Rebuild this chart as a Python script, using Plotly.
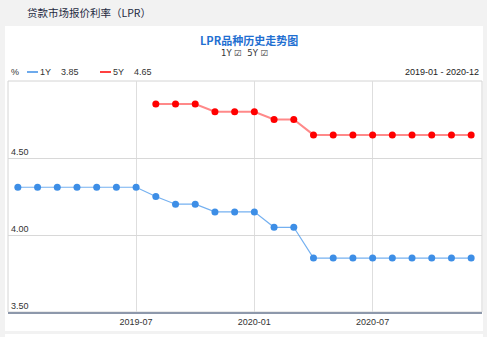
import plotly.graph_objects as go

months = [f"{y}-{m:02d}" for y in (2019, 2020) for m in range(1, 13)]
rate_1y = [4.31, 4.31, 4.31, 4.31, 4.31, 4.31, 4.31, 4.25, 4.20, 4.20, 4.15, 4.15,
           4.15, 4.05, 4.05, 3.85, 3.85, 3.85, 3.85, 3.85, 3.85, 3.85, 3.85, 3.85]
rate_5y = [None, None, None, None, None, None, None, 4.85, 4.85, 4.85, 4.80, 4.80,
           4.80, 4.75, 4.75, 4.65, 4.65, 4.65, 4.65, 4.65, 4.65, 4.65, 4.65, 4.65]
x_ticks = ["2019-07", "2020-01", "2020-07"]
y_ticks = [3.5, 4.0, 4.5]

W, H = 487, 337
L, R, T, B = 8, 482, 81, 312


def px(x):
    return (x - L) / (R - L)


def py(y):
    return (B - y) / (B - T)


fig = go.Figure()
fig.add_trace(go.Scatter(x=months, y=rate_1y, mode="lines+markers", name="1Y",
                         line=dict(color="rgba(70,150,235,0.75)", width=1.2),
                         marker=dict(color="#3d8ee6", size=7)))
fig.add_trace(go.Scatter(x=months, y=rate_5y, mode="lines+markers", name="5Y",
                         line=dict(color="rgba(255,40,40,0.55)", width=2),
                         marker=dict(color="#ff0000", size=7)))

font = "Noto Sans CJK SC, DejaVu Sans, sans-serif"
ann = []
ann.append(dict(text="贷款市场报价利率（LPR）", x=px(25), y=py(12), xanchor="left", yanchor="middle",
                font=dict(size=10.5, color="#1e2a3f", family=font)))
ann.append(dict(text="<b>LPR品种历史走势图</b>", x=px(249), y=py(40), xanchor="center", yanchor="middle",
                font=dict(size=11, color="#1f6fd1", family=font)))
ann.append(dict(text="1Y ☑  5Y ☑", x=px(244), y=py(53), xanchor="center", yanchor="middle",
                font=dict(size=8.5, color="#333", family="DejaVu Sans")))
ann.append(dict(text="%", x=px(9), y=py(72), xanchor="left", yanchor="middle",
                font=dict(size=9, color="#333", family="Liberation Sans")))
ann.append(dict(text="1Y", x=px(38), y=py(72), xanchor="left", yanchor="middle",
                font=dict(size=9, color="#333", family="Liberation Sans")))
ann.append(dict(text=f"{rate_1y[-1]:.2f}", x=px(59), y=py(72), xanchor="left", yanchor="middle",
                font=dict(size=9, color="#333", family="Liberation Sans")))
ann.append(dict(text="5Y", x=px(111), y=py(72), xanchor="left", yanchor="middle",
                font=dict(size=9, color="#333", family="Liberation Sans")))
ann.append(dict(text=f"{rate_5y[-1]:.2f}", x=px(132), y=py(72), xanchor="left", yanchor="middle",
                font=dict(size=9, color="#333", family="Liberation Sans")))
ann.append(dict(text=f"{months[0]} - {months[-1]}", x=px(481), y=py(72), xanchor="right", yanchor="middle",
                font=dict(size=9, color="#222", family="Liberation Sans")))
for a in ann:
    a.update(xref="paper", yref="paper", showarrow=False)

shapes = [
    dict(type="rect", xref="paper", yref="paper", x0=px(5), x1=px(483), y0=py(331), y1=py(26),
         fillcolor="white", line=dict(width=0), layer="below"),
    dict(type="rect", xref="paper", yref="paper", x0=px(5), x1=px(483), y0=py(345), y1=py(334),
         fillcolor="white", line=dict(width=0), layer="below"),
    dict(type="rect", xref="paper", yref="paper", x0=0, x1=1, y0=0, y1=1,
         fillcolor="rgba(0,0,0,0)", line=dict(color="#d4d4d4", width=1), layer="below"),
    dict(type="line", xref="paper", yref="paper", x0=px(27), x1=px(38), y0=py(72), y1=py(72),
         line=dict(color="#3d8ee6", width=1.5)),
    dict(type="line", xref="paper", yref="paper", x0=px(100), x1=px(111), y0=py(72), y1=py(72),
         line=dict(color="#ff0000", width=1.5)),
]

fig.update_layout(
    width=W, height=H,
    margin=dict(l=L, r=W - R, t=T, b=H - B),
    paper_bgcolor="#f2f2f2", plot_bgcolor="white",
    showlegend=False,
    annotations=ann, shapes=shapes,
    font=dict(family="Liberation Sans", size=9, color="#333"),
)
fig.update_xaxes(type="category", range=[-0.5, 23.55], tickvals=x_ticks, ticktext=x_ticks,
                 showgrid=True, gridcolor="#dedede", gridwidth=1,
                 showline=True, linecolor="#8d98ab", linewidth=1.5,
                 ticks="", tickfont=dict(size=9, color="#333"), zeroline=False)
fig.update_yaxes(range=[3.5, 5.0], tickvals=y_ticks, tickformat=".2f",
                 ticklabelposition="inside top", showgrid=True, gridcolor="#d8d8d8",
                 ticks="", tickfont=dict(size=9, color="#333"), zeroline=False, showline=False)

fig.write_html("out.html")
